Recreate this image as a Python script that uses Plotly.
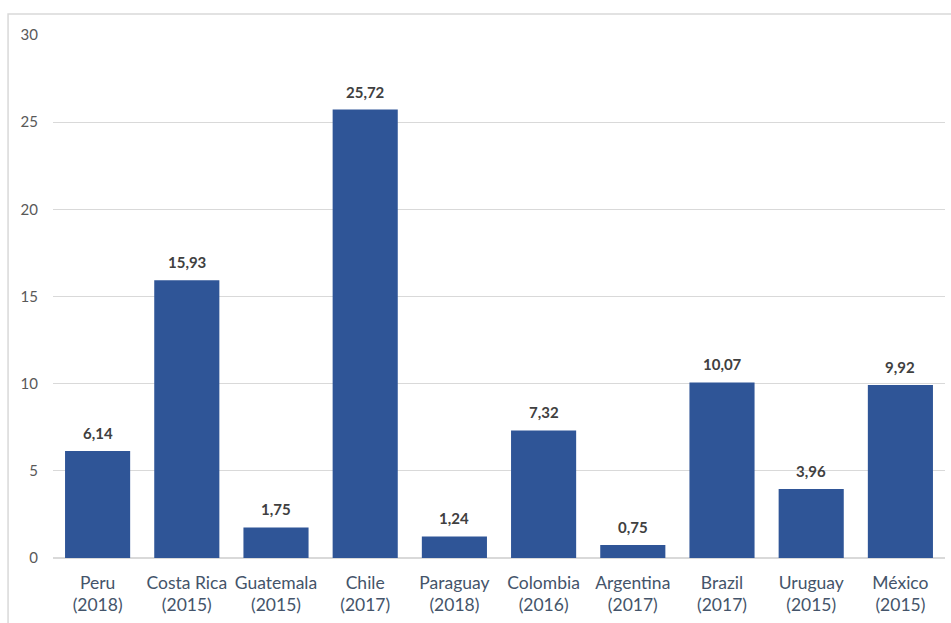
import plotly.graph_objects as go

countries = ["Peru", "Costa Rica", "Guatemala", "Chile", "Paraguay",
             "Colombia", "Argentina", "Brazil", "Uruguay", "México"]
years = ["2018", "2015", "2015", "2017", "2018", "2016", "2017", "2017", "2015", "2015"]
values = [6.14, 15.93, 1.75, 25.72, 1.24, 7.32, 0.75, 10.07, 3.96, 9.92]
y_ticks = [0, 5, 10, 15, 20, 25, 30]

labels = [f"{c}<br>({y})" for c, y in zip(countries, years)]

fig = go.Figure(go.Bar(
    x=labels, y=values,
    marker=dict(color="#2F5597", line=dict(width=0)),
))

for lab, v in zip(labels, values):
    fig.add_annotation(x=lab, y=v, xref="x", yref="y",
                       text=f"{v:.2f}".replace(".", ","),
                       showarrow=False, yanchor="bottom", yshift=7,
                       font=dict(family="Lato", size=15, color="#404040", weight="bold"))

fig.update_layout(
    width=951, height=623,
    margin=dict(l=53, r=6, t=35, b=65),
    paper_bgcolor="white", plot_bgcolor="white",
    bargap=0.27,
    showlegend=False,
    font=dict(family="Lato"),
    xaxis=dict(tickfont=dict(size=17.5, color="#44546A"), showgrid=False,
               showline=False, ticks="", ticklabelstandoff=12),
    yaxis=dict(range=[0, 30], tickvals=y_ticks, showgrid=True, gridcolor="#D9D9D9",
               gridwidth=1, zeroline=True, zerolinecolor="#D9D9D9",
               tickfont=dict(size=15, color="#595959"), ticklabelstandoff=14),
    shapes=[dict(type="rect", xref="paper", yref="paper",
                 x0=-0.0504, x1=1.2, y0=-0.3, y1=1.040,
                 line=dict(color="#D9D9D9", width=1.5), fillcolor="rgba(0,0,0,0)",
                 layer="below")],
)

fig.write_html("out.html")
